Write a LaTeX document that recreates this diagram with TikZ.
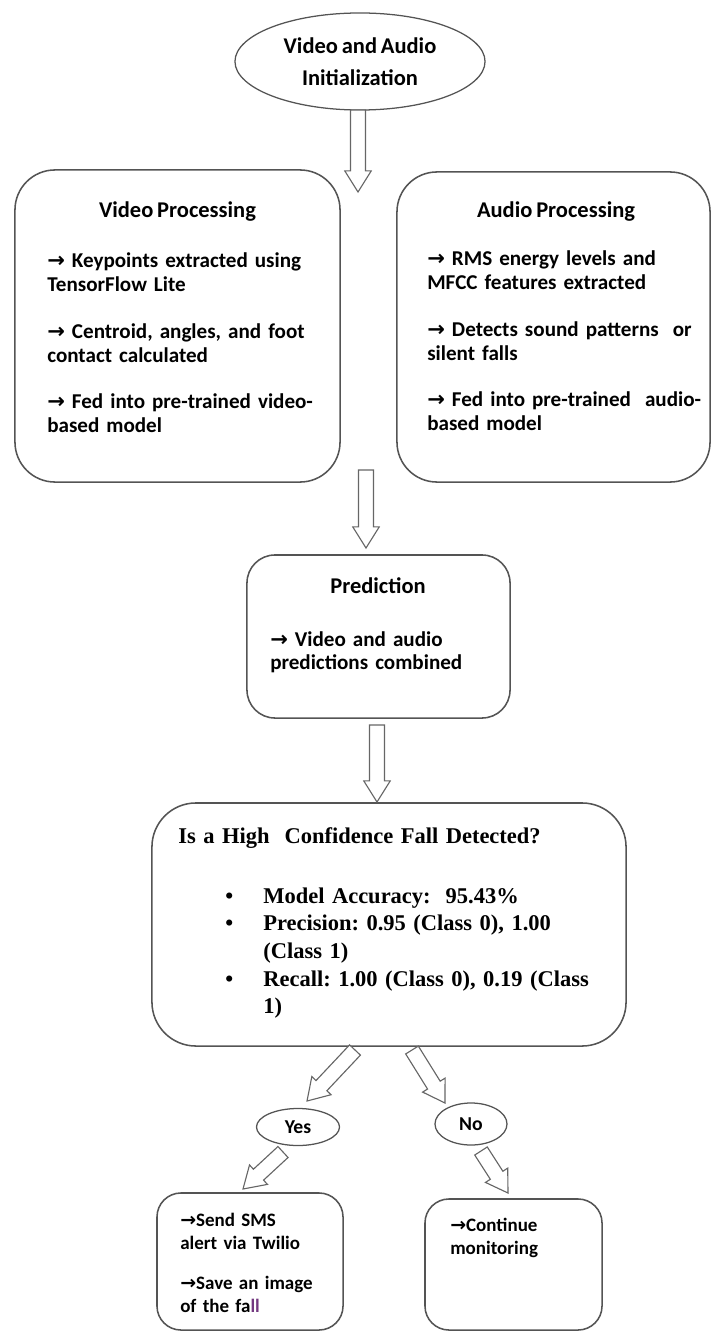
\documentclass[tikz,border=0pt]{standalone}
\usepackage{fontspec}
\usepackage{xcolor}
\usepackage{tikz}
\setmainfont{Carlito}[WordSpace=0.75]
\newfontfamily\timesfont{Liberation Serif}
\newfontfamily\symfont{DejaVu Sans}
\usetikzlibrary{calc}
\usetikzlibrary{shapes.geometric}
\definecolor{boxgray}{rgb}{0.33,0.33,0.33}
\definecolor{arrgray}{rgb}{0.40,0.40,0.40}
\definecolor{fallpurple}{rgb}{0.45,0.22,0.50}
\newcommand{\rarr}{{\symfont\bfseries →}}
\frenchspacing
% hollow block arrow: start, tip
\newcommand{\hollowarrow}[2]{%
  \coordinate (hb) at ($(#2)!15pt!(#1)$);
  \draw[arrowline] ($(#1)!5.3pt!90:(#2)$) -- ($(hb)!5.3pt!90:(#2)$) -- ($(hb)!9.4pt!90:(#2)$) -- (#2)
    -- ($(hb)!9.4pt!-90:(#2)$) -- ($(hb)!5.3pt!-90:(#2)$) -- ($(#1)!5.3pt!-90:(#2)$) -- cycle;}
\tikzset{
  arrowline/.style={draw=arrgray,line width=0.8pt,fill=white,line join=miter},
  procbox/.style={draw=boxgray,line width=1.1pt,rectangle,rounded corners=#1},
  oval/.style={draw=boxgray,line width=0.9pt,ellipse,inner sep=0pt,font=\bfseries\fontsize{14}{17}\selectfont},
  titletext/.style={inner sep=0pt,anchor=base,font=\bfseries\fontsize{16}{19}\selectfont},
  bodytext/.style={inner sep=0pt,anchor=base west,align=left,text width=7.5cm,font=\bfseries\fontsize{15}{17}\selectfont},
  smalltext/.style={inner sep=0pt,anchor=base west,align=left,text width=4cm,font=\bfseries\fontsize{13.5}{16.4}\selectfont},
  dectext/.style={inner sep=0pt,anchor=base west,align=left,text width=10.5cm,font=\timesfont\bfseries\fontsize{16}{19.7}\selectfont}
}
\begin{document}
\begin{tikzpicture}[line cap=round,x=0.025cm,y=-0.025cm]
\useasboundingbox (0,0) rectangle (712,1332);
% start
\node[oval,minimum width=6.25cm,minimum height=2.425cm,align=center,font=\bfseries\fontsize{16}{22.8}\selectfont] (init) at (360,61.5) {Video and Audio\\Initialization};
% processing boxes
\node[procbox=1cm,minimum width=8.125cm,minimum height=7.8cm] (video) at (177.5,326) {};
\node[procbox=1cm,minimum width=7.825cm,minimum height=7.75cm] (audio) at (553.5,327) {};
\node[titletext] (videotitle) at (177.5,218) {Video Processing};
\node[bodytext] (videotext) at (47,268) {\rarr\ Keypoints extracted using\\TensorFlow Lite\\[16pt]\rarr\ Centroid, angles, and foot\\contact calculated\\[16pt]\rarr\ Fed into pre-trained video-\\based model};
\node[titletext] (audiotitle) at (556,218) {Audio Processing};
\node[bodytext] (audiotext) at (427,266) {\rarr\ RMS energy levels and\\MFCC features extracted\\[16pt]\rarr\ Detects sound patterns\ \ or\\silent falls\\[16pt]\rarr\ Fed into pre-trained\ \ audio-\\based model};
% prediction
\node[procbox=0.7cm,minimum width=6.575cm,minimum height=4.075cm] (pred) at (378.5,636.5) {};
\node[titletext] (predtitle) at (378,593) {Prediction};
\node[bodytext] (predtext) at (270,646) {\rarr\ Video and audio\\predictions combined};
% decision
\node[procbox=1.1cm,minimum width=11.85cm,minimum height=6.075cm] (dec) at (389,924.5) {};
\node[dectext] (dectitle) at (178,843) {Is a High\ \ Confidence Fall Detected?};
\node[dectext] (declist) at (225,903) {\makebox[0.95cm][l]{\textbullet}Model Accuracy:\ \ 95.43\%\\
\makebox[0.95cm][l]{\textbullet}Precision: 0.95 (Class 0), 1.00\\
\hspace*{0.95cm}(Class 1)\\
\makebox[0.95cm][l]{\textbullet}Recall: 1.00 (Class 0), 0.19 (Class\\
\hspace*{0.95cm}1)};
% branches
\node[oval,minimum width=2.075cm,minimum height=0.925cm] (yes) at (298,1127) {Yes};
\node[oval,minimum width=1.8cm,minimum height=1.05cm] (no) at (471,1124) {No};
\node[procbox=0.6cm,minimum width=4.65cm,minimum height=3.425cm] (alert) at (250,1261.5) {};
\node[smalltext] (alerttext) at (180,1226) {\rarr Send SMS\\alert via Twilio\\[12pt]\rarr Save an image\\of the fa\textcolor{fallpurple}{ll}};
\node[procbox=0.6cm,minimum width=4.425cm,minimum height=3.275cm] (cont) at (513.5,1264.5) {};
\node[smalltext] (conttext) at (450,1231) {\rarr Continue\\monitoring};
% arrow ends
\coordinate (a1s) at (358,110);
\coordinate (a1t) at (358,192);
\coordinate (a2s) at (366,470);
\coordinate (a2t) at (366,548);
\coordinate (a3s) at (377,725);
\coordinate (a3t) at (377,802);
\coordinate (y1s) at (355,1050);
\coordinate (y1t) at (307,1101);
\coordinate (n1s) at (412,1050);
\coordinate (n1t) at (445,1103);
\coordinate (y2s) at (283,1152);
\coordinate (y2t) at (243,1189);
\coordinate (n2s) at (481,1151);
\coordinate (n2t) at (508,1193);
\hollowarrow{a1s}{a1t}
\hollowarrow{a2s}{a2t}
\hollowarrow{a3s}{a3t}
\hollowarrow{y1s}{y1t}
\hollowarrow{n1s}{n1t}
\hollowarrow{y2s}{y2t}
\hollowarrow{n2s}{n2t}
\end{tikzpicture}
\end{document}
